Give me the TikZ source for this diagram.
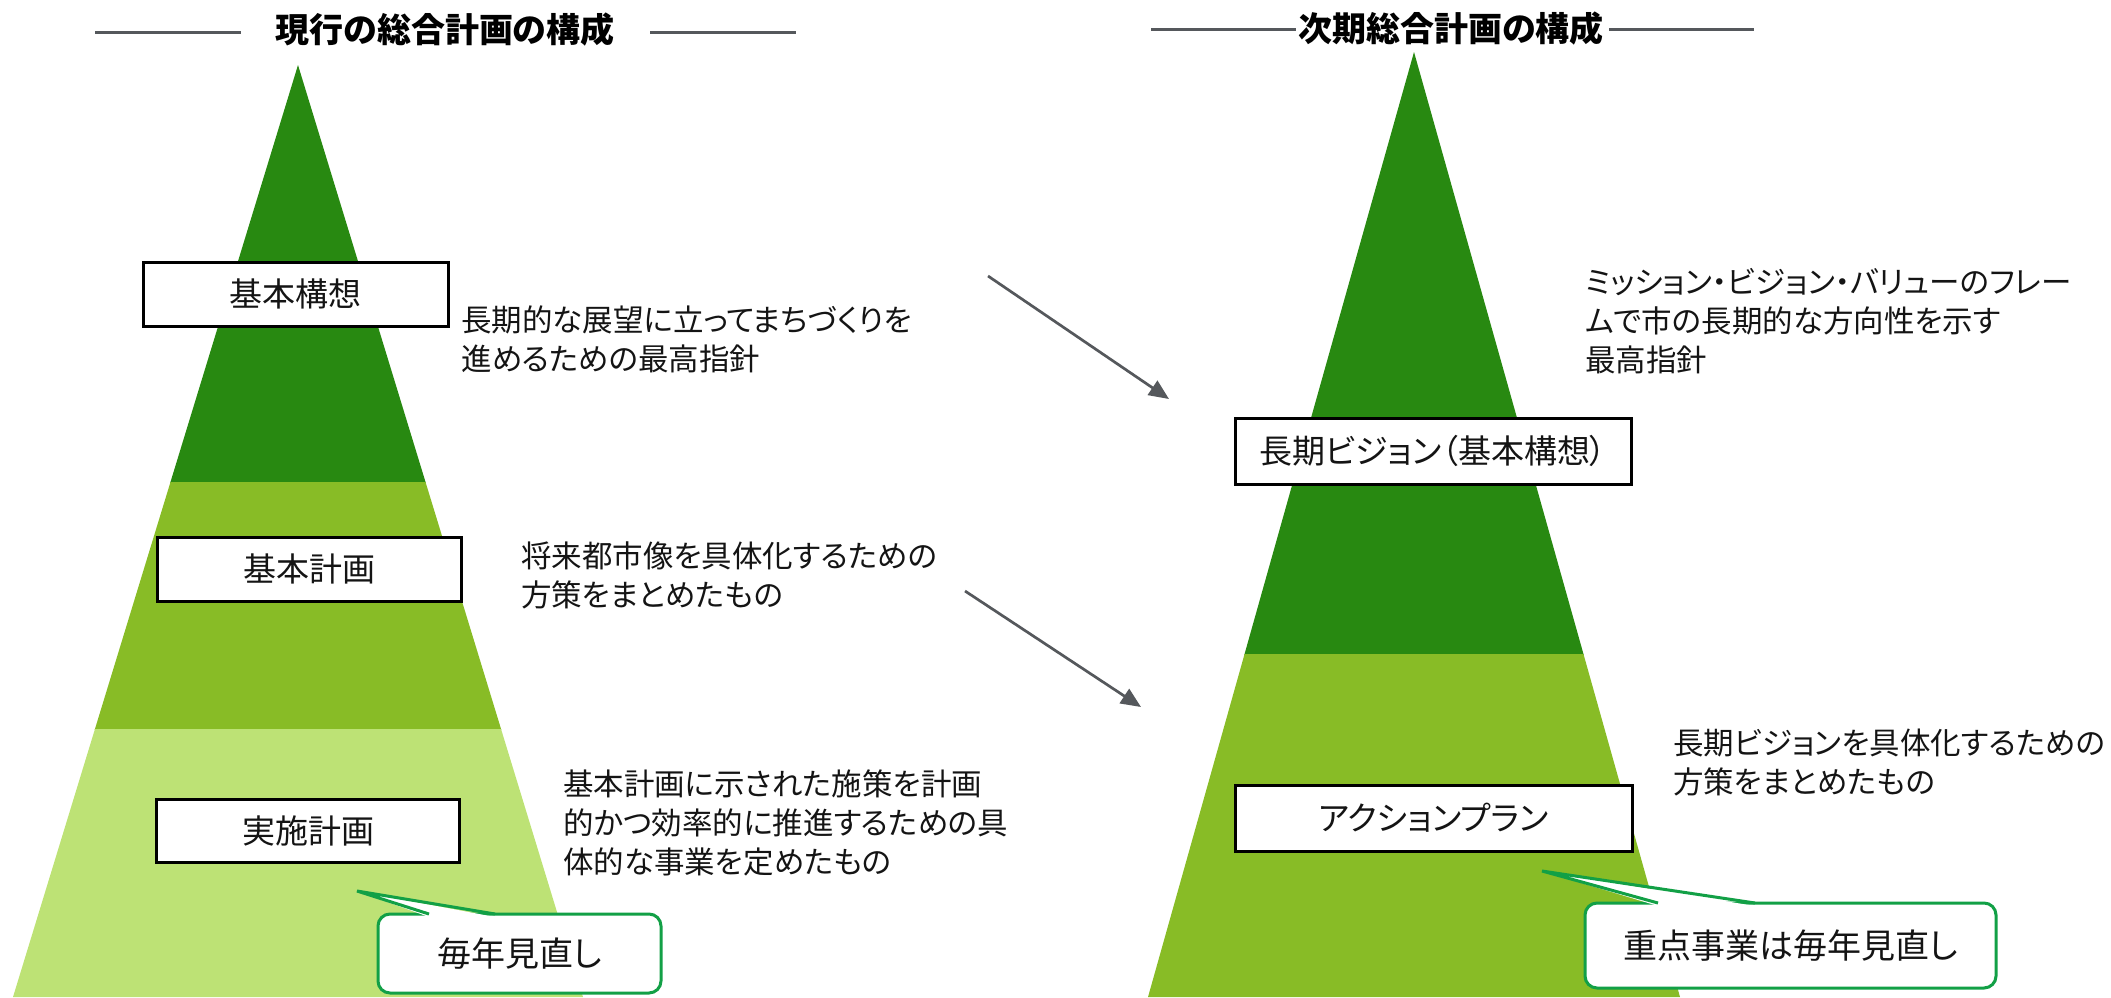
\documentclass[tikz,border=0pt]{standalone}
\usepackage{fontspec}
\setmainfont{Noto Sans CJK JP}[RawFeature=+palt]
\usetikzlibrary{arrows.meta}
\definecolor{gdark}{RGB}{40,137,17}
\definecolor{gmid}{RGB}{136,188,38}
\definecolor{glight}{RGB}{189,226,117}
\definecolor{cgreen}{RGB}{18,160,70}
\definecolor{lgray}{RGB}{85,88,92}
\definecolor{txt}{RGB}{20,20,20}
\tikzset{
  boxlabel/.style={draw=black, line width=3pt, fill=white, inner sep=0pt, text=txt,
    font=\fontsize{33}{40}\selectfont},
  desc/.style={anchor=west, align=left, inner sep=0pt, text=txt,
    font=\fontsize{30.5}{39}\selectfont},
  callout/.style={draw=cgreen, line width=3pt, fill=white, rounded corners=12pt,
    inner sep=0pt, text=txt, font=\fontsize{34}{40}\selectfont},
  titletext/.style={inner sep=0pt, text=black, font=\fontsize{34}{40}\selectfont\bfseries},
  rulel/.style={draw=lgray, line width=3pt},
  arr/.style={draw=lgray, line width=2.7pt, -{Triangle[length=20pt,width=17pt]}},
}
\begin{document}
\begin{tikzpicture}[x=1pt,y=-1pt]
\useasboundingbox (0,0) rectangle (2111,997);
% ---------- titles
\node[titletext] (t1) at (445,30) {現行の総合計画の構成};
\node[titletext] (t2) at (1451,29) {次期総合計画の構成};
\draw[rulel] (95,32) -- (241,32);
\draw[rulel] (650,32) -- (796,32);
\draw[rulel] (1151,29) -- (1296,29);
\draw[rulel] (1609,29) -- (1754,29);
% ---------- left pyramid
\begin{scope}
  \clip (298,65) -- (583,997) -- (13,997) -- cycle;
  \fill[gdark] (0,0) rectangle (700,482.5);
  \fill[gmid] (0,482) rectangle (700,729.5);
  \fill[glight] (0,729) rectangle (700,1000);
\end{scope}
% ---------- right pyramid
\begin{scope}
  \clip (1414,52) -- (1680,997) -- (1148,997) -- cycle;
  \fill[gdark] (1100,0) rectangle (1750,654.5);
  \fill[gmid] (1100,654) rectangle (1750,1000);
\end{scope}
% ---------- boxes
\node[boxlabel, minimum width=305pt, minimum height=64pt] (b1) at (295.5,294) {基本構想};
\node[boxlabel, minimum width=304pt, minimum height=64pt] (b2) at (309,569) {基本計画};
\node[boxlabel, minimum width=303pt, minimum height=63pt] (b3) at (308,831) {実施計画};
\node[boxlabel, minimum width=396pt, minimum height=66pt] (b4) at (1433,451) {長期ビジョン（基本構想）};
\node[boxlabel, minimum width=397pt, minimum height=66pt] (b5) at (1433.5,818) {アクションプラン};
% ---------- descriptions
\node[desc] (d1) at (461,339) {長期的な展望に立ってまちづくりを\\進めるための最高指針};
\node[desc] (d2) at (521,575) {将来都市像を具体化するための\\方策をまとめたもの};
\node[desc] (d3) at (563,823) {基本計画に示された施策を計画\\的かつ効率的に推進するための具\\体的な事業を定めたもの};
\node[desc] (d4) at (1585,321) {ミッション・ビジョン・バリューのフレー\\ムで市の長期的な方向性を示す\\最高指針};
\node[desc] (d5) at (1673,763) {長期ビジョンを具体化するための\\方策をまとめたもの};
% ---------- callouts
\node[callout, minimum width=283pt, minimum height=79pt] (c1) at (519.5,953.5) {毎年見直し};
\coordinate (c1tip) at (357,891);
\fill[white] (429,917) -- (c1tip) -- (495,917) -- cycle;
\draw[cgreen, line width=3pt, line join=miter] (429,914) -- (c1tip) -- (495,914);
\node[callout, minimum width=411pt, minimum height=85pt] (c2) at (1790.5,945.5) {重点事業は毎年見直し};
\coordinate (c2tip) at (1542,871);
\fill[white] (1658,906) -- (c2tip) -- (1755,906) -- cycle;
\draw[cgreen, line width=3pt, line join=miter] (1658,903) -- (c2tip) -- (1755,903);
% ---------- arrows
\coordinate (a1s) at (988,276);
\coordinate (a1e) at (1169,399);
\coordinate (a2s) at (965,591);
\coordinate (a2e) at (1141,707);
\draw[arr] (a1s) -- (a1e);
\draw[arr] (a2s) -- (a2e);
\end{tikzpicture}
\end{document}
